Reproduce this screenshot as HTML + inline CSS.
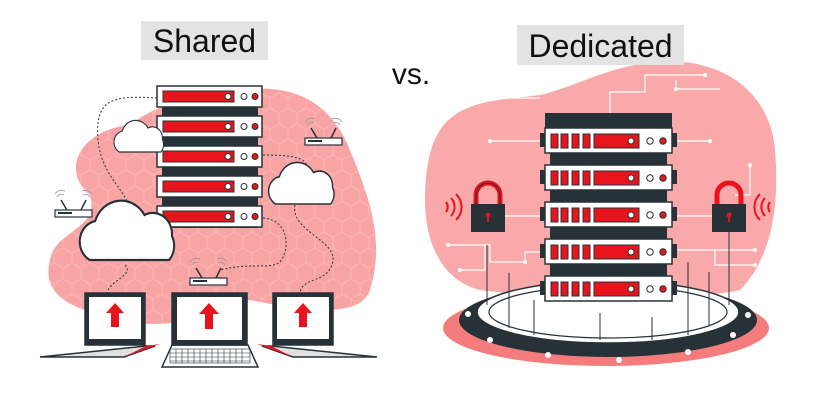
<!DOCTYPE html>
<html><head><style>
html,body{margin:0;padding:0;background:#fff;width:824px;height:400px;overflow:hidden}
svg{display:block}
text{font-family:"Liberation Sans",sans-serif}
</style></head><body>
<svg width="824" height="400" viewBox="0 0 824 400" xmlns="http://www.w3.org/2000/svg">
<defs>
<pattern id="hex" width="18" height="31" patternUnits="userSpaceOnUse">
<path d="M0 5 L9 0 L18 5 L18 15 L9 20 L0 15 Z M9 20 L9 31" fill="none" stroke="#fbb7b7" stroke-width="1"/>
</pattern>
<g id="lunit">
<rect x="0" y="0" width="105" height="21" fill="#fff" stroke="#263238" stroke-width="1.5"/>
<rect x="6" y="5" width="71" height="11" fill="#e8141b" stroke="#263238" stroke-width="1"/>
<circle cx="71" cy="10.5" r="3" fill="#fff" stroke="#263238"/>
<circle cx="87" cy="10.5" r="3" fill="#fff" stroke="#263238"/>
<circle cx="98" cy="10.5" r="3" fill="#e8141b" stroke="#263238"/>
</g>
<g id="runit">
<rect x="0" y="0" width="127" height="25" fill="#fff" stroke="#263238" stroke-width="1.5"/>
<rect x="-5" y="5" width="5" height="14" fill="#263238"/>
<rect x="127" y="5" width="5" height="14" fill="#263238"/>
<rect x="6" y="6" width="7" height="14" fill="#e8141b" stroke="#263238"/>
<rect x="16" y="6" width="7" height="14" fill="#e8141b" stroke="#263238"/>
<rect x="27" y="6" width="7" height="14" fill="#e8141b" stroke="#263238"/>
<rect x="38" y="6" width="7" height="14" fill="#e8141b" stroke="#263238"/>
<rect x="49" y="6" width="45" height="14" fill="#e8141b" stroke="#263238"/>
<circle cx="86" cy="13" r="3" fill="#fff" stroke="#263238"/>
<circle cx="105" cy="13" r="3.2" fill="#fff" stroke="#263238"/>
<circle cx="118" cy="13" r="3.2" fill="#e8141b" stroke="#263238"/>
</g>
<g id="router">
<line x1="6" y1="0" x2="12" y2="10" stroke="#263238" stroke-width="1.5"/>
<line x1="31" y1="0" x2="26" y2="10" stroke="#263238" stroke-width="1.5"/>
<path d="M2 -3 a5 5 0 0 1 7 -2 M0 -6 a8 8 0 0 1 10 -3" fill="none" stroke="#999" stroke-width="0.8"/>
<path d="M28 -5 a5 5 0 0 1 7 2 M27 -9 a8 8 0 0 1 10 3" fill="none" stroke="#999" stroke-width="0.8"/>
<rect x="0" y="10" width="37" height="7" fill="#fff" stroke="#263238" stroke-width="1.2"/>
<rect x="3" y="12" width="14" height="2" fill="#263238"/>
</g>
<g id="cloud">
<path d="M10 40 a14 14 0 0 1 4 -26 a20 20 0 0 1 36 -4 a14 14 0 0 1 20 14 a14 14 0 0 1 -2 16 Z" fill="#fff" stroke="#263238" stroke-width="1.5"/>
</g>
</defs>

<!-- LEFT blob -->
<path d="M90 195 C60 170 80 130 130 125 C150 110 170 100 230 92 C290 80 330 100 350 150 C370 200 385 240 370 290 C360 320 300 310 250 300 C200 320 160 330 120 320 C80 310 40 300 50 260 C55 230 100 230 90 195 Z" fill="#f9a4a4"/>
<path d="M90 195 C60 170 80 130 130 125 C150 110 170 100 230 92 C290 80 330 100 350 150 C370 200 385 240 370 290 C360 320 300 310 250 300 C200 320 160 330 120 320 C80 310 40 300 50 260 C55 230 100 230 90 195 Z" fill="url(#hex)"/>

<!-- dotted connectors -->
<g fill="none" stroke="#263238" stroke-width="1" stroke-dasharray="2 2">
<path d="M157 98 C110 95 95 100 98 140 C102 180 130 190 130 215"/>
<path d="M263 155 C300 155 310 160 305 170"/>
<path d="M263 218 C290 220 290 250 280 262 C270 270 250 262 220 270"/>
<path d="M295 205 C290 230 335 240 333 260 C330 285 300 275 300 295"/>
<path d="M125 265 C135 275 110 280 107 293"/>
</g>

<!-- left server -->
<rect x="162" y="86" width="96" height="142" fill="#263238"/>
<use href="#lunit" x="157" y="86"/>
<use href="#lunit" x="157" y="116"/>
<use href="#lunit" x="157" y="146"/>
<use href="#lunit" x="157" y="176"/>
<use href="#lunit" x="157" y="206"/>

<use href="#cloud" transform="translate(112,120) scale(0.72,0.8)"/>
<use href="#cloud" transform="translate(76,200) scale(1.37,1.5)"/>
<use href="#cloud" transform="translate(266,162) scale(0.95,1.05)"/>

<use href="#router" x="55" y="200"/>
<use href="#router" x="305" y="128"/>
<use href="#router" x="190" y="268"/>

<!-- laptops -->
<g stroke="#263238" stroke-width="1.5">
<polygon points="40,357 146,346 155,346 124,357" fill="#e0e0e0"/>
<polygon points="146,346 160,344 124,357" fill="#e8141b" stroke="none"/>
<rect x="85" y="293" width="60" height="52" fill="#263238"/>
<rect x="89" y="297" width="52" height="42" fill="#fff" stroke="none"/>
<polygon points="172,345 248,345 258,367 162,367" fill="#fff"/>
<rect x="172" y="293" width="75" height="52" fill="#263238"/>
<rect x="177" y="297" width="65" height="43" fill="#fff" stroke="none"/>
<polygon points="377,357 271,346 262,346 293,357" fill="#e0e0e0"/>
<polygon points="271,346 257,344 293,357" fill="#e8141b" stroke="none"/>
<rect x="273" y="293" width="60" height="52" fill="#263238"/>
<rect x="277" y="297" width="52" height="42" fill="#fff" stroke="none"/>
</g>
<g stroke="#263238" stroke-width="0.6">
<rect x="170" y="349" width="80" height="14" fill="url(#kb)"/>
<path d="M170 353h80M170 357h80M170 361h80" />
<path d="M176 349v14M182 349v14M188 349v14M194 349v14M200 349v14M206 349v14M212 349v14M218 349v14M224 349v14M230 349v14M236 349v14M242 349v14"/>
</g>
<g fill="#e8141b">
<path d="M115 303 l9 10 h-5 v14 h-8 v-14 h-5 z"/>
<path d="M209 303 l10 11 h-6 v15 h-8 v-15 h-6 z"/>
<path d="M303 303 l9 10 h-5 v14 h-8 v-14 h-5 z"/>
</g>

<!-- labels -->
<rect x="141" y="21" width="127" height="39" fill="#e3e3e3"/>
<text x="204.5" y="52" font-size="32" text-anchor="middle" fill="#111">Shared</text>
<text x="411" y="84" font-size="30" text-anchor="middle" fill="#111">vs.</text>

<!-- RIGHT blob -->
<path d="M440 130 C460 100 500 100 540 95 C580 85 600 70 650 62 C720 55 770 90 775 150 C780 210 770 260 740 290 C700 300 560 300 480 290 C440 280 425 240 425 200 C425 170 430 145 440 130 Z" fill="#f9a9a9"/>
<g stroke="#fff" stroke-width="1.2" fill="none">
<path d="M610 113 V92 H645 V75 H705 M676 80 V89 H720 M505 98 H540"/>
<path d="M490 141 H545 M672 141 H710 M487 216 H545 M672 216 H712"/>
<path d="M448 245 H485 V270 H460 M485 245 H490 V262 H525 V252 H545"/>
<path d="M672 250 H755 M715 250 V265 H755 M750 165 V195 H735"/>
</g>
<g fill="#fff"><circle cx="705" cy="75" r="2"/><circle cx="676" cy="89" r="2"/><circle cx="490" cy="141" r="2"/><circle cx="710" cy="141" r="2"/><circle cx="448" cy="245" r="2"/><circle cx="460" cy="270" r="2"/><circle cx="755" cy="250" r="2"/><circle cx="755" cy="265" r="2"/><circle cx="750" cy="165" r="2"/><circle cx="525" cy="262" r="2"/></g>

<!-- ring -->
<ellipse cx="606" cy="328" rx="163" ry="38" fill="#f47c7c"/>
<ellipse cx="608" cy="320" rx="149" ry="37" fill="#263238"/>
<ellipse cx="608" cy="312" rx="131" ry="31" fill="#fff" stroke="#263238" stroke-width="1.5"/>
<ellipse cx="608" cy="312" rx="119" ry="26" fill="#fff" stroke="#263238" stroke-width="1.2"/>
<g fill="#fff"><circle cx="468" cy="314" r="3"/><circle cx="490" cy="340" r="3"/><circle cx="548" cy="355" r="3"/><circle cx="619" cy="360" r="3"/><circle cx="688" cy="352" r="3"/><circle cx="733" cy="335" r="3"/><circle cx="748" cy="315" r="3"/></g>
<g stroke="#263238" stroke-width="1">
<line x1="487" y1="245" x2="487" y2="305"/><line x1="509" y1="273" x2="509" y2="328"/><line x1="534" y1="300" x2="534" y2="335"/>
<line x1="600" y1="313" x2="600" y2="340"/><line x1="652" y1="317" x2="652" y2="340"/>
<line x1="688" y1="262" x2="688" y2="335"/><line x1="709" y1="272" x2="709" y2="325"/><line x1="729" y1="232" x2="729" y2="305"/>
</g>

<!-- right server -->
<rect x="545" y="113" width="127" height="16" fill="#263238"/>
<rect x="550" y="128" width="117" height="170" fill="#263238"/>
<use href="#runit" x="545" y="128"/>
<use href="#runit" x="545" y="165"/>
<use href="#runit" x="545" y="202"/>
<use href="#runit" x="545" y="239"/>
<use href="#runit" x="545" y="276"/>

<!-- locks -->
<g>
<path d="M476 205 V195 a12 12 0 0 1 24 0 V205" fill="none" stroke="#e8141b" stroke-width="5"/>
<path d="M476 205 V195 a12 12 0 0 1 24 0 V205" fill="none" stroke="#263238" stroke-width="1"/>
<rect x="471" y="204" width="34" height="28" fill="#263238"/>
<circle cx="488" cy="215" r="2.5" fill="#e8141b"/><rect x="487" y="215" width="2" height="7" fill="#e8141b"/>
<path d="M717 205 V195 a12 12 0 0 1 24 0 V205" fill="none" stroke="#e8141b" stroke-width="5"/>
<rect x="712" y="204" width="34" height="28" fill="#263238"/>
<circle cx="729" cy="215" r="2.5" fill="#e8141b"/><rect x="728" y="215" width="2" height="7" fill="#e8141b"/>
<g fill="none" stroke="#e8141b" stroke-width="2">
<path d="M446 202 a8 8 0 0 1 0 10 M451 198 a13 13 0 0 1 0 18 M456 194 a18 18 0 0 1 0 26"/>
<path d="M770 202 a8 8 0 0 0 0 10 M765 198 a13 13 0 0 0 0 18 M760 194 a18 18 0 0 0 0 26"/>
</g>
</g>

<rect x="517" y="25" width="167" height="40" fill="#e3e3e3"/>
<text x="600.5" y="57" font-size="32" text-anchor="middle" fill="#111">Dedicated</text>
</svg>
</body></html>
